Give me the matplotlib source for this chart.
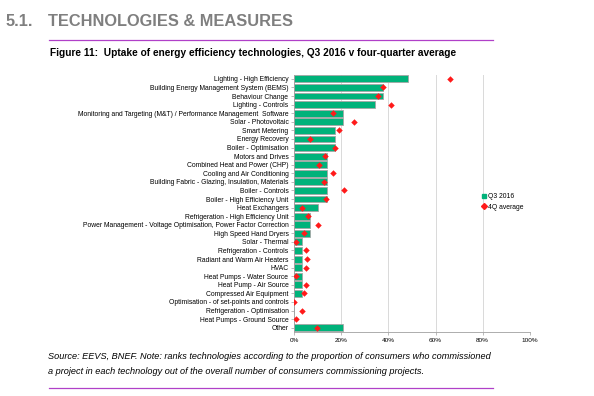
import matplotlib
matplotlib.use("Agg")
import matplotlib.pyplot as plt
from matplotlib.lines import Line2D
import numpy as np

plt.rcParams['font.family'] = ['Liberation Sans', 'DejaVu Sans']

technologies = [
    "Lighting - High Efficiency",
    "Building Energy Management System (BEMS)",
    "Behaviour Change",
    "Lighting - Controls",
    "Monitoring and Targeting (M&T) / Performance Management  Software",
    "Solar - Photovoltaic",
    "Smart Metering",
    "Energy Recovery",
    "Boiler - Optimisation",
    "Motors and Drives",
    "Combined Heat and Power (CHP)",
    "Cooling and Air Conditioning",
    "Building Fabric - Glazing, Insulation, Materials",
    "Boiler - Controls",
    "Boiler - High Efficiency Unit",
    "Heat Exchangers",
    "Refrigeration - High Efficiency Unit",
    "Power Management - Voltage Optimisation, Power Factor Correction",
    "High Speed Hand Dryers",
    "Solar - Thermal",
    "Refrigeration - Controls",
    "Radiant and Warm Air Heaters",
    "HVAC",
    "Heat Pumps - Water Source",
    "Heat Pump - Air Source",
    "Compressed Air Equipment",
    "Optimisation - of set-points and controls",
    "Refrigeration - Optimisation",
    "Heat Pumps - Ground Source",
    "Other",
]

# Q3 2016 share (%)
q3_2016 = [48.3, 37.9, 37.9, 34.5, 20.7, 20.7, 17.2, 17.2, 17.2, 13.8,
           13.8, 13.8, 13.8, 13.8, 13.8, 10.3, 6.9, 6.9, 6.9, 3.4,
           3.4, 3.4, 3.4, 3.4, 3.4, 3.4, 0.0, 0.0, 0.0, 20.7]
# four-quarter average (%)
avg_4q = [66.3, 37.6, 35.7, 41.0, 16.4, 25.3, 19.1, 6.9, 17.4, 13.3,
          10.6, 16.5, 12.7, 21.0, 13.6, 3.3, 5.8, 10.0, 4.4, 0.9,
          5.0, 5.6, 5.0, 0.9, 5.1, 4.1, 0.1, 3.3, 1.0, 9.9]

xticks = [0, 20, 40, 60, 80, 100]

green = '#00b27a'
red = '#ff1a1a'
purple = '#b040c8'

fig = plt.figure(figsize=(5.94, 3.96), dpi=100)
ax = fig.add_axes([0.495, 0.1616, 0.397, 0.65])

y = np.arange(len(technologies))
ax.barh(y, q3_2016, height=0.8, color=green, edgecolor='#a6a6a6', linewidth=0.6, zorder=2)
ax.plot(avg_4q, y, linestyle='none', marker='D', markersize=3.3, color=red,
        markeredgewidth=0, zorder=3)

ax.set_xlim(0, 100)
ax.set_ylim(len(technologies) - 0.5, -0.5)
ax.set_yticks(y)
ax.set_yticklabels(technologies, fontsize=4.9)
ax.set_xticks(xticks)
ax.set_xticklabels([f"{t}%" for t in xticks], fontsize=4.6)
ax.tick_params(axis='y', length=2, width=0.5, color='#a0a0a0', pad=2)
ax.tick_params(axis='x', length=2, width=0.5, color='#a0a0a0', pad=2)
ax.grid(axis='x', color='#d9d9d9', linewidth=0.7, zorder=0)
for s in ['top', 'right']:
    ax.spines[s].set_visible(False)
for s in ['left', 'bottom']:
    ax.spines[s].set_color('#a0a0a0')
    ax.spines[s].set_linewidth(0.6)

handles = [
    Line2D([], [], linestyle='none', marker='s', markersize=3, color=green, label='Q3 2016'),
    Line2D([], [], linestyle='none', marker='D', markersize=3, color=red, label='4Q average'),
]
ax.legend(handles=handles, loc='center left', bbox_to_anchor=(0.811, 0.49),
          bbox_transform=fig.transFigure, frameon=False, fontsize=4.9,
          handletextpad=0.1, handlelength=0.8, labelspacing=0.55,
          borderaxespad=0, borderpad=0)

# header and caption
fig.text(0.009, 0.946, "5.1.", fontsize=11.8, fontweight='bold',
         color='#7f7f7f', va='center')
fig.text(0.081, 0.946, "TECHNOLOGIES & MEASURES", fontsize=11.8, fontweight='bold',
         color='#7f7f7f', va='center')
fig.add_artist(Line2D([0.083, 0.83], [0.899, 0.899], color=purple, linewidth=0.9))
fig.text(0.084, 0.866, "Figure 11:  Uptake of energy efficiency technologies, Q3 2016 v four-quarter average",
         fontsize=7.25, fontweight='bold', va='center')
fig.text(0.081, 0.101, "Source: EEVS, BNEF. Note: ranks technologies according to the proportion of consumers who commissioned",
         fontsize=6.6, style='italic', va='center')
fig.text(0.081, 0.061, "a project in each technology out of the overall number of consumers commissioning projects.",
         fontsize=6.6, style='italic', va='center')
fig.add_artist(Line2D([0.083, 0.83], [0.02, 0.02], color=purple, linewidth=0.9))

fig.savefig("out.png", dpi=100)
